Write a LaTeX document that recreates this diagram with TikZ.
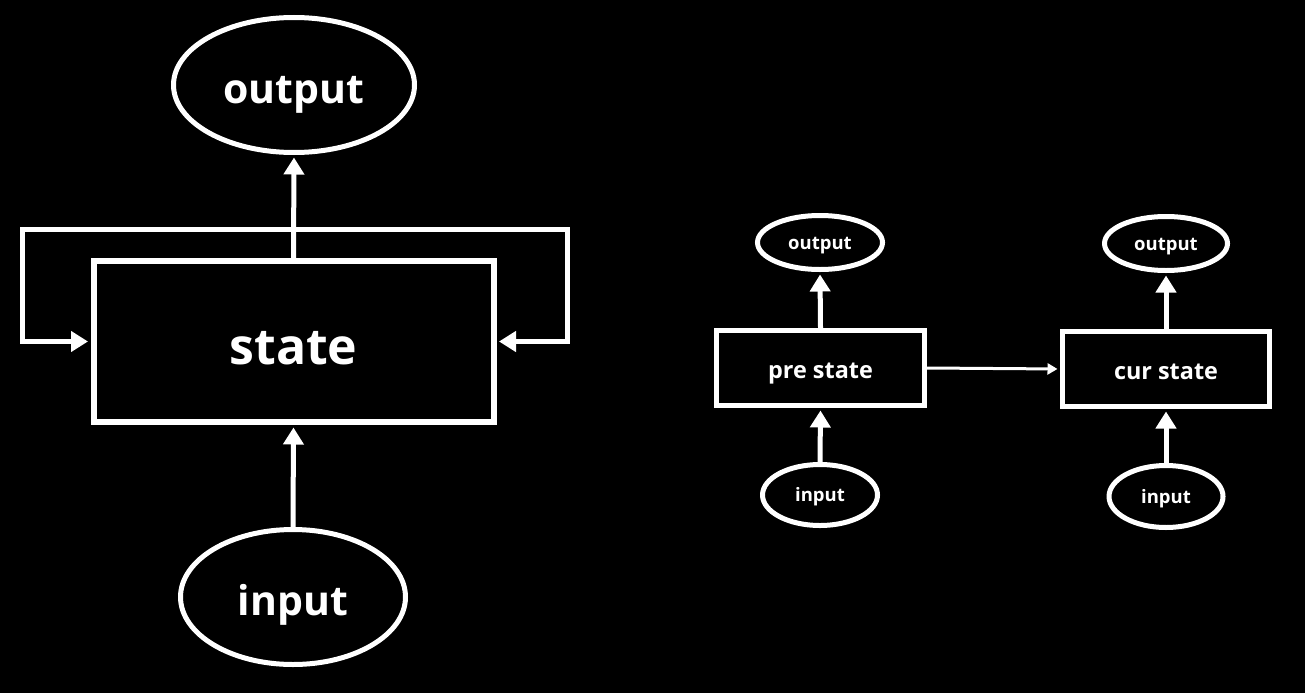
\documentclass[tikz,border=0pt]{standalone}
\usepackage{fontspec}
\setmainfont{Open Sans}
\usetikzlibrary{shapes.geometric,arrows.meta,positioning}
\tikzset{
  bigell/.style={ellipse,draw=white,line width=5pt,text=white,inner sep=0pt,text height=36pt,text depth=0pt,
    font=\bfseries\fontsize{41}{41}\selectfont},
  bigbox/.style={rectangle,draw=white,line width=6pt,text=white,inner sep=0pt,text height=46pt,text depth=0pt,
    font=\bfseries\fontsize{50}{50}\selectfont},
  smallell/.style={ellipse,draw=white,line width=5pt,text=white,inner sep=0pt,text height=13.5pt,text depth=0pt,
    font=\bfseries\fontsize{18.5}{18.5}\selectfont},
  smallbox/.style={rectangle,draw=white,line width=5pt,text=white,inner sep=0pt,text height=21pt,text depth=0pt,
    font=\bfseries\fontsize{23.4}{23.4}\selectfont},
  arr/.style={draw=white,line width=5pt,-{Triangle[length=17pt,width=20pt]},shorten >=2.5pt},
  thinarr/.style={draw=white,line width=3pt,-{Triangle[length=10pt,width=11pt]},shorten >=2.5pt}
}
\begin{document}
\begin{tikzpicture}[x=1pt,y=-1pt]
	\fill[black,use as bounding box] (0,0) rectangle (1305,693);
	% single state machine
	\node[bigell,minimum width=241pt,minimum height=135pt] (out) at (294,85) {output};
	\node[bigbox,minimum width=400pt,minimum height=161pt] (st) at (293.5,341.5) {state};
	\node[bigell,minimum width=225pt,minimum height=135pt] (in) at (293,597) {input};
	\draw[arr] (st.north) -- (out.south);
	\draw[arr] (in.north) -- (st.south);
	\coordinate (jn) at (st.north |- 0,229);
	\coordinate (lp) at (22,229);
	\coordinate (rp) at (567,229);
	\draw[arr] (jn) -- (lp) |- (st.west);
	\draw[arr] (jn) -- (rp) |- (st.east);
	% unrolled in time
	\node[smallbox,minimum width=208pt,minimum height=75pt] (pre) at (820.5,368) {pre state};
	\node[smallell,minimum width=125pt,minimum height=54pt] (preout) at (820,242.5) {output};
	\node[smallell,minimum width=115pt,minimum height=61pt] (prein) at (820,495) {input};
	\node[smallbox,minimum width=207pt,minimum height=75pt] (cur) at (1166,369) {cur state};
	\node[smallell,minimum width=123pt,minimum height=54pt] (curout) at (1166,243.5) {output};
	\node[smallell,minimum width=114pt,minimum height=62pt] (curin) at (1166,496.5) {input};
	\draw[arr] (pre.north) -- (preout.south);
	\draw[arr] (prein.north) -- (pre.south);
	\draw[arr] (cur.north) -- (curout.south);
	\draw[arr] (curin.north) -- (cur.south);
	\draw[thinarr] (pre.east) -- (cur.west);
\end{tikzpicture}
\end{document}
